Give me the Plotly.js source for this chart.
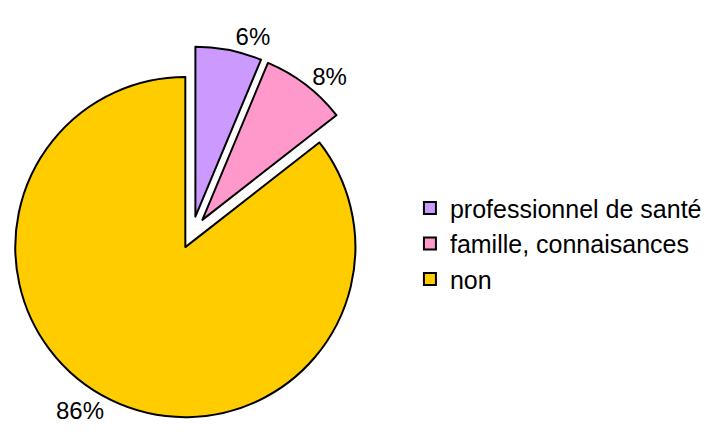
<!DOCTYPE html>
<html>
<head>
<meta charset="utf-8">
<script src="https://cdn.plot.ly/plotly-3.0.1.min.js"></script>
<style>html,body{margin:0;padding:0;background:#fff}#chart{width:708px;height:441px}</style>
</head>
<body>
<div id="chart"></div>
<script>
const categories = ["professionnel de santé", "famille, connaisances", "non"];
const values = [6.3, 8.15, 85.55];
const colors = ["#CC99FF", "#FF99CC", "#FFCC00"];

const trace = {
  type: "pie",
  labels: categories,
  values: values,
  sort: false,
  direction: "clockwise",
  rotation: 0,
  pull: [0.1, 0.1, 0.09],
  marker: { colors: colors, line: { color: "#000000", width: 2 } },
  textposition: "outside",
  texttemplate: "%{percent:.0%}",
  textfont: { family: "Liberation Sans, Arial, sans-serif", size: 24, color: "#000" },
  domain: { x: [0.0065, 0.536], y: [0.0467, 0.895] },
  automargin: false,
  hoverinfo: "label+percent"
};

const layout = {
  width: 708, height: 441,
  margin: { l: 0, r: 0, t: 0, b: 0 },
  paper_bgcolor: "#ffffff",
  showlegend: true,
  legend: {
    x: 0.579, y: 0.447, xanchor: "left", yanchor: "middle",
    font: { family: "Liberation Sans, Arial, sans-serif", size: 25, color: "#000" },
    bgcolor: "rgba(0,0,0,0)"
  },
  font: { family: "Liberation Sans, Arial, sans-serif" }
};

Plotly.newPlot("chart", [trace], layout, { displayModeBar: false, staticPlot: true });
</script>
</body>
</html>
